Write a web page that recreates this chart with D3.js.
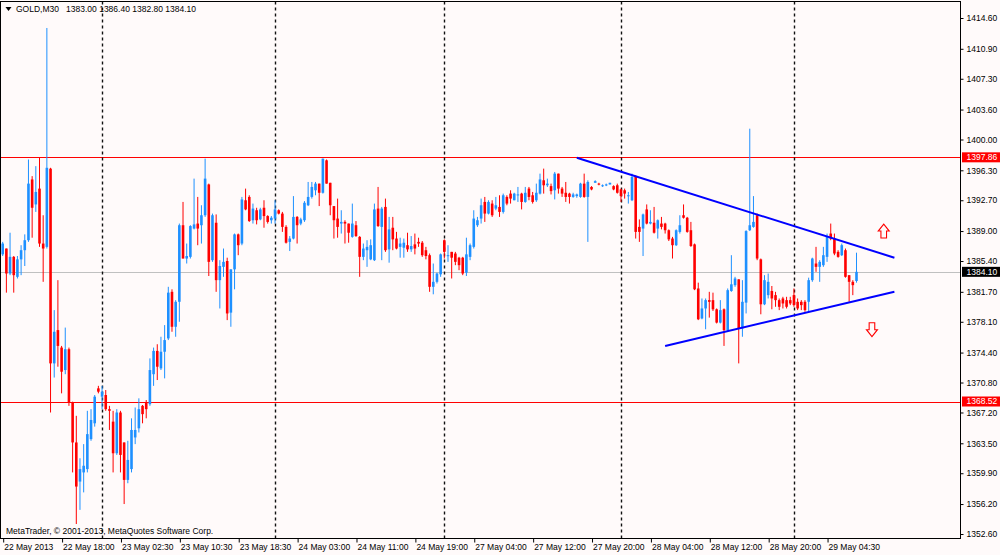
<!DOCTYPE html>
<html>
<head>
<meta charset="utf-8">
<title>GOLD,M30</title>
<script src="https://cdnjs.cloudflare.com/ajax/libs/d3/7.8.5/d3.min.js"></script>
<style>
  html, body { margin: 0; padding: 0; background: #fffafa; }
  svg { display: block; font-family: "Liberation Sans", Arial, sans-serif; }
  .axis text { font-size: 8.5px; fill: #000; }
  .axis line { stroke: #000; }
</style>
</head>
<body>
<div id="chart"></div>
<script>
'use strict';

//#region data (M30 bars, 22 May 2013 ... 29 May 2013)
const open = [
  1386.2,1386.9,1383.9,1385.9,1383.5,1385.6,1386.7,1387.9,1395.2,1392.2,
  1394.1,1387.5,1387.1,1396.5,1373.1,1377.1,1375.0,1372.3,1374.8,1368.4,
  1363.6,1358.9,1360.0,1360.4,1364.0,1365.9,1370.1,1369.1,1369.3,1367.6,
  1366.1,1362.3,1367.2,1363.6,1359.1,1360.4,1364.2,1365.3,1368.0,1368.4,
  1368.2,1371.8,1374.6,1372.5,1374.5,1376.1,1381.7,1377.5,1380.5,1389.7,
  1385.7,1385.9,1389.3,1389.9,1389.7,1390.9,1394.6,1385.5,1390.0,1383.1,
  1384.7,1385.4,1379.2,1384.4,1388.6,1387.5,1392.7,1393.1,1390.3,1391.5,
  1390.4,1391.8,1390.8,1390.3,1390.5,1391.5,1391.1,1389.5,1387.7,1388.1,
  1390.7,1389.9,1390.3,1392.1,1393.1,1393.9,1394.7,1393.6,1397.5,1394.8,
  1392.0,1390.5,1389.9,1390.1,1389.9,1388.3,1389.7,1388.3,1385.9,1386.7,
  1385.6,1385.5,1391.7,1389.5,1391.9,1386.8,1389.4,1388.1,1387.1,1387.0,
  1387.3,1386.8,1387.4,1387.7,1387.6,1386.7,1386.1,1382.3,1382.9,1383.8,
  1387.9,1386.0,1386.5,1386.3,1385.8,1385.8,1384.0,1385.9,1387.1,1389.7,
  1390.5,1392.5,1391.1,1392.3,1391.7,1391.9,1391.3,1393.1,1393.5,1392.7,
  1393.3,1393.5,1392.5,1394.1,1393.3,1392.7,1393.5,1395.1,1394.5,1394.4,
  1393.9,1395.9,1394.1,1393.6,1393.5,1393.1,1393.2,1393.1,1394.7,1393.1,
  1394.3,1394.8,1394.7,1394.4,1394.5,1394.6,1394.4,1394.5,1394.0,1393.9,
  1393.2,1392.7,1395.6,1389.5,1389.3,1391.6,1389.9,1390.0,1389.3,1389.9,
  1389.9,1389.1,1388.1,1387.3,1388.9,1390.9,1390.6,1389.1,1387.4,1382.1,
  1378.5,1379.7,1380.7,1380.7,1379.6,1378.0,1379.6,1377.1,1381.8,1382.5,
  1383.2,1377.3,1380.4,1389.1,1389.5,1390.9,1385.6,1380.2,1381.3,1381.8,
  1381.3,1380.7,1380.9,1380.7,1380.7,1381.3,1380.5,1380.5,1380.5,1380.5,
  1383.1,1385.1,1384.7,1384.9,1385.9,1388.7,1388.1,1386.5,1386.1,1386.7,
  1383.7,1382.9,1383.0];

const high = [
  1387.7,1386.9,1388.8,1386.0,1386.0,1387.3,1388.6,1397.6,1395.6,1396.8,
  1397.8,1390.9,1413.4,1396.6,1379.5,1383.1,1375.2,1377.4,1375.0,1368.5,
  1366.8,1361.7,1363.4,1367.4,1367.6,1369.3,1370.4,1370.4,1369.9,1368.0,
  1367.4,1367.6,1367.4,1363.6,1363.8,1366.5,1367.8,1368.9,1368.1,1368.7,
  1373.7,1375.0,1375.4,1376.3,1377.7,1382.3,1382.0,1380.7,1389.9,1392.5,
  1387.5,1389.7,1395.3,1393.1,1392.1,1397.7,1394.7,1391.1,1391.0,1385.5,
  1386.9,1385.8,1384.4,1388.7,1388.7,1393.1,1394.1,1393.3,1392.3,1391.8,
  1391.8,1392.7,1390.9,1390.8,1392.7,1391.6,1391.3,1389.7,1388.4,1393.2,
  1390.8,1390.6,1392.6,1394.9,1394.9,1394.9,1394.7,1397.7,1397.6,1394.8,
  1392.0,1392.9,1391.5,1390.3,1389.9,1392.3,1390.2,1388.4,1387.5,1387.9,
  1388.0,1392.3,1394.3,1391.9,1392.9,1390.7,1390.7,1388.9,1388.2,1388.1,
  1388.8,1388.4,1388.7,1388.2,1387.8,1387.1,1386.3,1385.1,1384.0,1386.3,
  1388.0,1387.3,1386.5,1386.5,1385.9,1385.9,1388.2,1387.5,1391.5,1390.7,
  1392.9,1393.1,1392.7,1392.7,1393.1,1393.3,1393.5,1393.3,1393.9,1393.6,
  1394.3,1393.6,1394.3,1394.3,1393.7,1394.7,1395.9,1396.5,1395.3,1394.7,
  1396.1,1395.9,1394.3,1394.9,1393.6,1393.6,1393.5,1394.8,1395.9,1395.1,
  1394.4,1395.1,1394.8,1394.6,1394.7,1394.8,1394.5,1394.7,1394.1,1394.1,
  1393.7,1395.9,1395.7,1390.4,1391.1,1392.2,1391.5,1391.9,1390.4,1390.7,
  1390.0,1389.2,1388.3,1389.2,1390.9,1392.2,1390.7,1390.1,1387.5,1382.8,
  1380.9,1380.9,1381.7,1381.6,1379.7,1380.7,1379.7,1382.1,1386.1,1383.5,
  1383.2,1383.1,1389.1,1401.3,1393.2,1391.1,1385.7,1383.7,1383.9,1382.4,
  1381.7,1380.9,1381.1,1381.1,1381.1,1382.1,1380.9,1380.7,1380.7,1383.4,
  1385.8,1387.1,1385.5,1387.1,1388.7,1389.9,1388.7,1386.7,1387.5,1386.9,
  1383.7,1383.1,1386.4];

const low = [
  1386.0,1381.6,1383.7,1381.6,1383.3,1383.7,1384.8,1387.7,1388.2,1391.3,
  1387.1,1382.9,1386.9,1367.2,1371.4,1372.7,1369.5,1371.8,1368.0,1360.0,
  1353.8,1355.5,1357.6,1360.0,1363.8,1365.5,1369.5,1367.6,1367.4,1365.1,
  1360.0,1362.1,1360.0,1356.2,1358.7,1360.0,1363.4,1364.8,1365.9,1366.5,
  1368.0,1370.4,1371.1,1372.3,1371.3,1375.9,1376.9,1376.3,1378.1,1385.7,
  1385.1,1385.7,1389.2,1387.3,1387.5,1390.7,1383.6,1385.3,1381.7,1379.7,
  1383.5,1378.3,1377.5,1382.0,1386.1,1387.3,1391.5,1390.1,1389.9,1389.8,
  1390.3,1389.4,1389.9,1389.9,1389.9,1391.0,1388.9,1387.5,1386.6,1388.0,
  1387.5,1389.7,1390.1,1392.0,1392.9,1393.3,1392.0,1393.5,1394.7,1390.9,
  1388.1,1388.2,1388.7,1387.5,1387.6,1388.2,1388.3,1383.5,1385.5,1384.7,
  1385.5,1385.4,1389.5,1385.5,1386.5,1385.2,1386.7,1386.8,1385.8,1385.8,
  1386.5,1386.5,1386.2,1387.1,1385.9,1385.6,1381.7,1381.4,1382.7,1383.5,
  1385.7,1385.3,1383.3,1384.9,1384.3,1383.7,1383.6,1385.5,1386.9,1389.5,
  1389.9,1390.1,1391.0,1390.7,1391.5,1390.7,1391.1,1392.1,1392.3,1392.7,
  1392.5,1391.6,1392.4,1392.7,1392.3,1392.5,1393.4,1393.5,1394.3,1393.4,
  1392.8,1393.5,1393.1,1392.5,1392.3,1393.0,1393.0,1393.0,1393.0,1387.7,
  1393.9,1394.8,1394.5,1394.3,1394.4,1394.6,1393.9,1393.5,1392.5,1392.9,
  1392.3,1392.6,1388.1,1387.7,1386.0,1389.8,1389.8,1388.7,1388.1,1389.2,
  1388.7,1387.8,1385.7,1387.2,1388.7,1390.5,1388.8,1387.1,1381.9,1378.3,
  1378.4,1377.2,1378.6,1379.4,1377.9,1377.9,1375.2,1377.0,1381.7,1382.3,
  1373.1,1376.3,1379.1,1389.0,1389.4,1385.5,1379.0,1380.1,1380.9,1379.6,
  1379.9,1379.5,1379.7,1379.7,1380.1,1379.9,1379.5,1379.5,1379.3,1379.3,
  1382.9,1384.1,1382.9,1384.7,1385.3,1387.9,1386.1,1385.8,1386.0,1383.4,
  1380.5,1381.3,1382.8];

const close = [
  1387.5,1383.9,1385.9,1383.7,1385.6,1386.7,1387.9,1394.7,1391.8,1393.7,
  1387.5,1386.9,1396.6,1373.1,1376.9,1375.2,1372.1,1374.8,1368.4,1363.6,
  1358.3,1360.4,1360.8,1364.6,1366.3,1369.1,1369.7,1369.7,1367.6,1367.4,
  1362.3,1367.2,1362.1,1359.1,1361.5,1365.1,1365.1,1367.6,1367.0,1367.6,
  1372.3,1374.6,1372.7,1374.5,1375.9,1381.6,1377.5,1380.5,1389.7,1385.7,
  1386.0,1389.6,1389.8,1389.3,1390.9,1395.3,1385.3,1390.9,1383.1,1384.8,
  1385.3,1379.1,1384.4,1388.6,1387.3,1392.8,1391.6,1390.2,1391.7,1390.3,
  1391.6,1390.8,1390.1,1390.6,1391.6,1391.1,1389.5,1387.6,1388.1,1390.7,
  1389.7,1390.4,1392.4,1393.1,1394.3,1394.7,1393.6,1397.7,1394.7,1392.1,
  1390.3,1389.5,1390.1,1389.9,1388.8,1389.9,1388.4,1385.9,1386.9,1387.1,
  1387.3,1391.6,1389.6,1391.7,1386.7,1389.2,1388.0,1386.9,1387.5,1387.6,
  1386.8,1387.2,1386.9,1387.5,1386.1,1386.0,1382.3,1382.9,1383.9,1386.2,
  1386.5,1386.1,1385.8,1385.3,1384.9,1383.9,1386.2,1387.3,1390.5,1390.3,
  1392.1,1391.1,1392.5,1390.9,1392.1,1391.3,1393.3,1392.3,1392.9,1393.5,
  1393.4,1392.5,1393.6,1393.1,1392.5,1393.6,1395.2,1394.5,1394.7,1393.8,
  1395.9,1394.1,1393.5,1393.1,1393.1,1393.4,1393.4,1394.7,1393.1,1394.9,
  1394.0,1395.0,1394.6,1394.5,1394.6,1394.8,1394.0,1393.6,1393.2,1393.5,
  1393.3,1395.5,1388.9,1388.9,1391.0,1389.9,1390.1,1388.8,1390.3,1389.5,
  1389.1,1388.0,1387.3,1389.1,1389.7,1390.6,1388.9,1387.2,1382.0,1378.4,
  1379.7,1380.7,1380.5,1379.6,1378.0,1379.5,1377.1,1381.9,1382.6,1383.3,
  1377.3,1380.5,1389.0,1389.7,1390.1,1385.7,1380.2,1383.1,1382.9,1380.9,
  1380.7,1379.9,1380.3,1379.9,1380.3,1380.1,1379.7,1380.1,1379.5,1383.1,
  1385.7,1384.7,1385.3,1386.1,1388.3,1388.1,1386.3,1385.9,1387.3,1383.5,
  1382.9,1382.5,1384.1];

//price scale labels on the right
const priceTicks = [1414.60, 1410.90, 1407.30, 1403.60, 1400.00, 1396.30, 1392.70, 1389.00, 1385.40,
                    1381.70, 1378.10, 1374.40, 1370.80, 1367.20, 1363.50, 1359.90, 1356.20, 1352.60];

//time scale labels (one every 16 bars)
const timeLabels   = ['22 May 2013', '22 May 18:00', '23 May 02:30', '23 May 10:30', '23 May 18:30',
                      '24 May 03:00', '24 May 11:00', '24 May 19:00', '27 May 04:00', '27 May 12:00',
                      '27 May 20:00', '28 May 04:00', '28 May 12:00', '28 May 20:00', '29 May 04:30'];
const timeLabelBar = [0, 16, 32, 48, 64, 80, 96, 112, 128, 144, 160, 176, 192, 208, 224];

//period separators (first bar of each day)
const daySeparatorBar = [27, 74, 120, 168, 215];

//horizontal levels
const levelPrices = [1397.86, 1368.52];

//trend lines: [bar, price] -> [bar, price]
const trendUpper = [[156.0, 1397.8], [242.3, 1385.8]];
const trendLower = [[180.0, 1375.2], [242.3, 1381.7]];

//arrow objects
const arrowBar   = [239.4, 236.2];
const arrowPrice = [1389.0, 1377.15];
const arrowDir   = ['up', 'down'];
//#endregion

//#region layout
const W = 1000, H = 555;
const plot = {left: 0.5, top: 1.5, right: 960.5, bottom: 538.5};
const bullColor = '#1e90ff';
const bearColor = '#ff0000';
//#endregion

let bars = open.map((o, i) => ({ i: i, o: o, h: high[i], l: low[i], c: close[i] }));
let last = bars[bars.length - 1];

const svg = d3.select('#chart').append('svg').attr('width', W).attr('height', H);

//scales: bar index -> pixel, price -> pixel
const x = d3.scaleLinear().domain([0, bars.length - 1]).range([2.7, 856.5]);
const y = d3.scaleLinear().domain([1352.6, 1414.6]).range([534, 18]);

svg.append('rect').attr('width', W).attr('height', H).attr('fill', '#fffafa');

svg.append('clipPath').attr('id', 'plotclip')
  .append('rect')
  .attr('x', plot.left).attr('y', plot.top)
  .attr('width', plot.right - plot.left).attr('height', plot.bottom - plot.top);

const g = svg.append('g').attr('clip-path', 'url(#plotclip)');

drawLevels();
drawSeparators();
drawCandles();
drawTrendLines();
drawArrows();
drawFrame();
drawAxes();
drawTexts();

function drawLevels() {
  //bid line
  g.append('line')
    .attr('x1', plot.left).attr('x2', plot.right)
    .attr('y1', Math.round(y(last.c)) + 0.5).attr('y2', Math.round(y(last.c)) + 0.5)
    .attr('stroke', '#c0c0c0').attr('stroke-width', 1);

  g.selectAll('.level').data(levelPrices).enter().append('line')
    .attr('class', 'level')
    .attr('x1', plot.left).attr('x2', plot.right)
    .attr('y1', d => Math.round(y(d)) + 0.5).attr('y2', d => Math.round(y(d)) + 0.5)
    .attr('stroke', '#ff0000').attr('stroke-width', 1);
}

function drawSeparators() {
  g.selectAll('.sep').data(daySeparatorBar).enter().append('line')
    .attr('class', 'sep')
    .attr('x1', d => Math.round(x(d)) + 0.5).attr('x2', d => Math.round(x(d)) + 0.5)
    .attr('y1', plot.top).attr('y2', plot.bottom)
    .attr('stroke', '#111').attr('stroke-width', 1.4)
    .attr('stroke-dasharray', '3,3');
}

function drawCandles() {
  let bodyW = 2.6;
  let c = g.selectAll('.candle').data(bars).enter().append('g').attr('class', 'candle');

  c.append('line')
    .attr('x1', d => x(d.i)).attr('x2', d => x(d.i))
    .attr('y1', d => y(d.h)).attr('y2', d => y(d.l))
    .attr('stroke', d => d.c >= d.o ? bullColor : bearColor)
    .attr('stroke-width', 1);

  c.append('rect')
    .attr('x', d => x(d.i) - bodyW / 2)
    .attr('width', bodyW)
    .attr('y', d => y(Math.max(d.o, d.c)))
    .attr('height', d => Math.max(1, y(Math.min(d.o, d.c)) - y(Math.max(d.o, d.c))))
    .attr('fill', d => d.c >= d.o ? bullColor : bearColor);
}

function drawTrendLines() {
  let line = d3.line()
    .x(d => x(d[0]))
    .y(d => y(d[1]));

  g.selectAll('.trend').data([trendUpper, trendLower]).enter().append('path')
    .attr('class', 'trend')
    .attr('d', d => line(d))
    .attr('fill', 'none')
    .attr('stroke', '#0000ff').attr('stroke-width', 2);
}

function drawArrows() {
  //hollow block arrow, pointing up, centred on 0,0
  const upShape = 'M0,-7 L5.5,0 L2.8,0 L2.8,7 L-2.8,7 L-2.8,0 L-5.5,0 Z';

  g.selectAll('.arrow').data(arrowBar).enter().append('path')
    .attr('class', 'arrow')
    .attr('d', upShape)
    .attr('transform', (d, i) => 'translate(' + x(d) + ',' + y(arrowPrice[i]) + ')' +
                                 (arrowDir[i] === 'down' ? ' scale(1,-1)' : ''))
    .attr('fill', '#fffafa')
    .attr('stroke', '#ff0000').attr('stroke-width', 1.1);
}

function drawFrame() {
  svg.append('rect')
    .attr('x', plot.left).attr('y', plot.top)
    .attr('width', plot.right - plot.left).attr('height', plot.bottom - plot.top)
    .attr('fill', 'none').attr('stroke', '#000').attr('stroke-width', 1);
}

function drawAxes() {
  //right price axis
  let yAxis = d3.axisRight(y)
    .tickValues(priceTicks)
    .tickFormat(d3.format('.2f'))
    .tickSize(3).tickSizeOuter(0).tickPadding(3);

  let ya = svg.append('g').attr('class', 'axis')
    .attr('transform', 'translate(' + plot.right + ',0)')
    .call(yAxis);
  ya.select('.domain').remove();

  //bottom time axis
  let xAxis = d3.axisBottom(x)
    .tickValues(timeLabelBar)
    .tickFormat((d, i) => timeLabels[i])
    .tickSize(4).tickSizeOuter(0).tickPadding(1.5);

  let xa = svg.append('g').attr('class', 'axis')
    .attr('transform', 'translate(0,' + plot.bottom + ')')
    .call(xAxis);
  xa.select('.domain').remove();
  xa.selectAll('.tick line').attr('transform', 'translate(0.5,0)');
  xa.selectAll('.tick text').attr('text-anchor', 'start').attr('x', 1);

  //price boxes on the axis
  let boxes = levelPrices.map(p => ({ p: p, fill: '#ff0000' }));
  boxes.push({ p: last.c, fill: '#000' });

  let b = svg.selectAll('.pricebox').data(boxes).enter().append('g').attr('class', 'pricebox');
  b.append('rect')
    .attr('x', plot.right + 1.5).attr('width', W - plot.right - 1.5)
    .attr('y', d => y(d.p) - 5).attr('height', 10)
    .attr('fill', d => d.fill);
  b.append('text')
    .attr('x', plot.right + 6).attr('y', d => y(d.p))
    .attr('dy', '0.35em')
    .attr('font-size', '8.5px').attr('fill', '#fff')
    .text(d => d3.format('.2f')(d.p));
}

function drawTexts() {
  //small menu triangle + symbol / OHLC of the last bar
  svg.append('path')
    .attr('d', 'M5.5,7 L11.5,7 L8.5,11 Z')
    .attr('fill', '#000');

  let f = d3.format('.2f');
  svg.append('text')
    .attr('x', 16).attr('y', 12)
    .attr('font-size', '8.5px')
    .style('white-space', 'pre')
    .text('GOLD,M30   ' + f(last.o) + ' ' + f(last.h) + ' ' + f(last.l) + ' ' + f(last.c));

  svg.append('text')
    .attr('x', 6).attr('y', 533.5)
    .attr('font-size', '8.5px')
    .text('MetaTrader, \u00a9 2001-2013, MetaQuotes Software Corp.');
}
</script>
</body>
</html>
